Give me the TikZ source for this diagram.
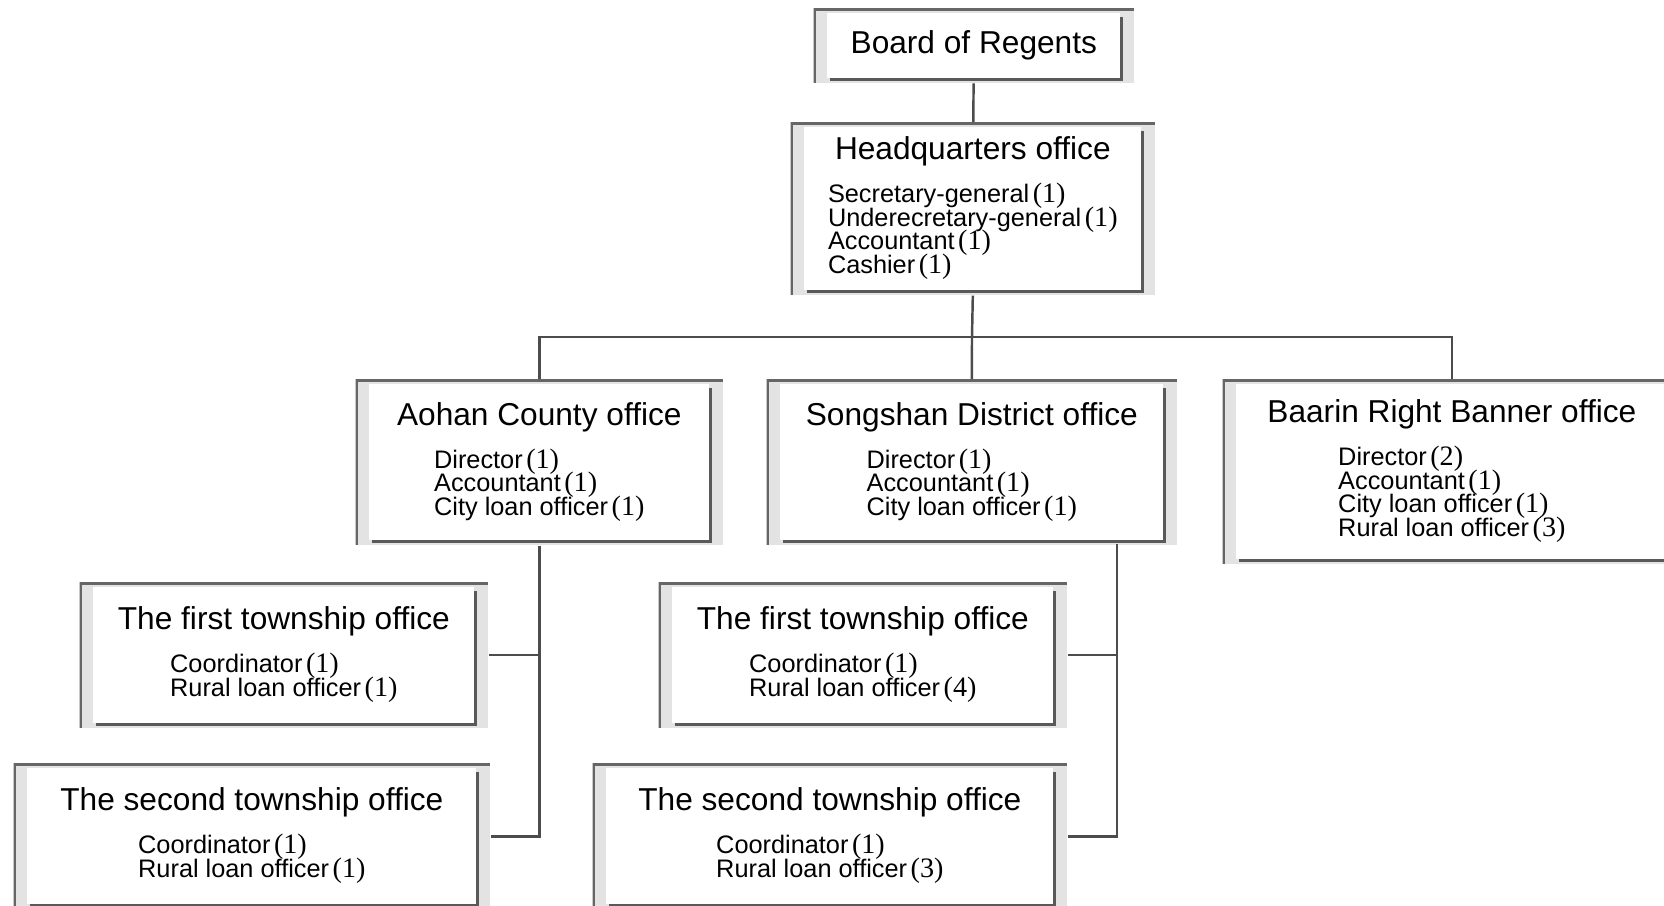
\documentclass[tikz,border=0pt]{standalone}
\usepackage{fontspec}
\usepackage{array}
\setmainfont{Liberation Sans}
\newfontfamily\numfont{Liberation Serif}
\newcommand{\staff}[1]{\kern1pt{\numfont\fontsize{8}{6.7}\selectfont(#1)}}
% list rows with a fixed height, so that the lines sit close as in the chart
\newcolumntype{L}{>{\setbox0\hbox\bgroup}l<{\egroup\ht0=4.7pt \dp0=2pt \box0}}
\newcommand{\officetext}[2]{\begin{tabular}{@{}c@{}}{\fontsize{9}{10}\selectfont #1}\\[5.5pt]\begin{tabular}{@{}L@{}}#2\end{tabular}\end{tabular}}

\tikzset{
  office/.style={anchor=north west, inner sep=0pt, fill=gray!22,
    font=\fontsize{7.2}{6.7}\selectfont,
    path picture={
      \fill[black!65] ([shift={(0.16cm,-0.08cm)}]path picture bounding box.north west)
        rectangle ([shift={(-0.11cm,0.02cm)}]path picture bounding box.south east);
      \fill[white] ([shift={(0.13cm,-0.04cm)}]path picture bounding box.north west)
        rectangle ([shift={(-0.14cm,0.05cm)}]path picture bounding box.south east);
      \draw[black!60, line width=1.2pt] (path picture bounding box.south west)
        -- (path picture bounding box.north west) -- (path picture bounding box.north east);
    }},
  boxsize/.style 2 args={minimum width=#1, minimum height=#2},
  link/.style={draw=black!70, line width=0.7pt}
}

\begin{document}
\begin{tikzpicture}[x=0.01cm, y=-0.01cm]
    \useasboundingbox (0,0) rectangle (1664,905);

    % top levels
    \node[office, boxsize={3.20cm}{0.74cm}] (board) at (813,8)
        {\fontsize{9}{10}\selectfont Board of Regents};
    \node[office, boxsize={3.64cm}{1.72cm}] (hq) at (790,122)
        {\officetext{Headquarters office}{Secretary-general\staff{1}\\Underecretary-general\staff{1}\\Accountant\staff{1}\\Cashier\staff{1}}};

    % county and district offices
    \node[office, boxsize={3.67cm}{1.65cm}] (aohan) at (355,379)
        {\officetext{Aohan County office}{Director\staff{1}\\Accountant\staff{1}\\City loan officer\staff{1}}};
    \node[office, boxsize={4.10cm}{1.65cm}] (songshan) at (766,379)
        {\officetext{Songshan District office}{Director\staff{1}\\Accountant\staff{1}\\City loan officer\staff{1}}};
    \node[office, boxsize={4.58cm}{1.84cm}] (baarin) at (1222,379)
        {\officetext{Baarin Right Banner office}{Director\staff{2}\\Accountant\staff{1}\\City loan officer\staff{1}\\Rural loan officer\staff{3}}};

    % township offices
    \node[office, boxsize={4.08cm}{1.45cm}] (townA1) at (79,582)
        {\officetext{The first township office}{Coordinator\staff{1}\\Rural loan officer\staff{1}}};
    \node[office, boxsize={4.76cm}{1.45cm}] (townA2) at (13,763)
        {\officetext{The second township office}{Coordinator\staff{1}\\Rural loan officer\staff{1}}};
    \node[office, boxsize={4.08cm}{1.45cm}] (townS1) at (658,582)
        {\officetext{The first township office}{Coordinator\staff{1}\\Rural loan officer\staff{4}}};
    \node[office, boxsize={4.74cm}{1.45cm}] (townS2) at (592,763)
        {\officetext{The second township office}{Coordinator\staff{1}\\Rural loan officer\staff{3}}};

    % connectors
    \coordinate (bar) at (972,337);
    \coordinate (sdrop) at (1117,544);
    \draw[link] (board) -- (hq);
    \draw[link] (hq.south) -- (bar);
    \draw[link] (bar) -| (aohan.north);
    \draw[link] (bar) -- (songshan.north);
    \draw[link] (bar) -| (baarin.north);
    \foreach \t in {townA1, townA2}
        \draw[link] (aohan.south) |- (\t.east);
    \foreach \t in {townS1, townS2}
        \draw[link] (sdrop) |- (\t.east);
\end{tikzpicture}
\end{document}
